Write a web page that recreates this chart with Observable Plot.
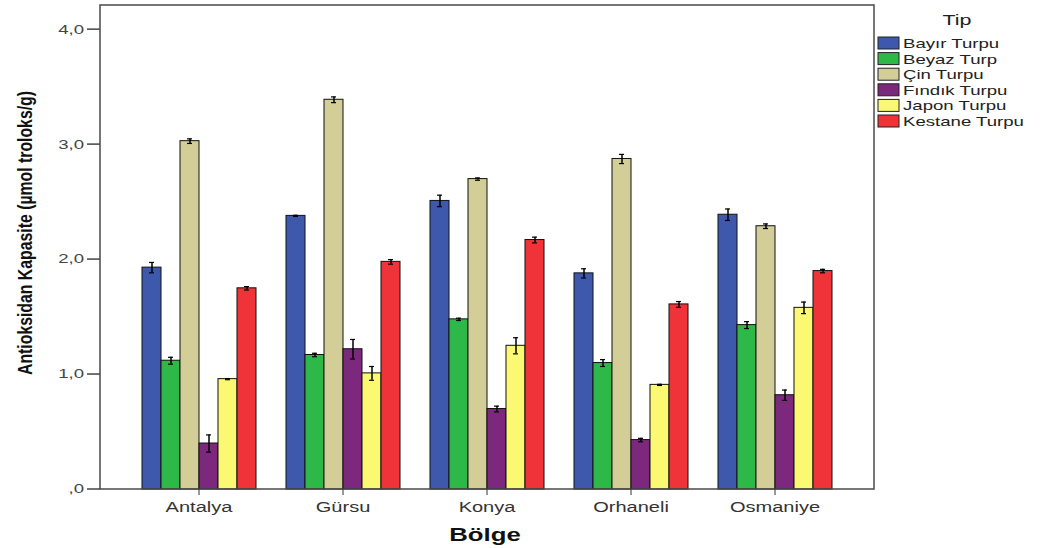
<!DOCTYPE html>
<html><head><meta charset="utf-8">
<script src="https://cdn.jsdelivr.net/npm/d3@7"></script>
<script src="https://cdn.jsdelivr.net/npm/@observablehq/plot@0.6"></script>
<style>
body{margin:0;background:#fff;}
#wrap{position:relative;width:1048px;height:548px;}
</style>
</head><body><div id="wrap"></div>
<script>
const regions = ["Antalya", "Gürsu", "Konya", "Orhaneli", "Osmaniye"];
const tips = ["Bayır Turpu", "Beyaz Turp", "Çin Turpu", "Fındık Turpu", "Japon Turpu", "Kestane Turpu"];
const colors = ["#3E58AC", "#2EB848", "#D3CE97", "#7C287D", "#FBF873", "#EF3338"];
const yTicks = [0, 1, 2, 3, 4];

// mean values per tip, in region order
const bayir   = [1.93, 2.38, 2.51, 1.88, 2.39];
const beyaz   = [1.12, 1.17, 1.48, 1.10, 1.43];
const cin     = [3.03, 3.39, 2.70, 2.875, 2.29];
const findik  = [0.40, 1.22, 0.70, 0.43, 0.82];
const japon   = [0.96, 1.01, 1.25, 0.91, 1.58];
const kestane = [1.75, 1.98, 2.17, 1.61, 1.90];
// error bar half-widths
const bayirErr   = [0.045, 0.005, 0.05, 0.04, 0.05];
const beyazErr   = [0.03, 0.015, 0.01, 0.03, 0.03];
const cinErr     = [0.02, 0.025, 0.01, 0.04, 0.02];
const findikErr  = [0.075, 0.085, 0.025, 0.015, 0.045];
const japonErr   = [0.005, 0.06, 0.07, 0.005, 0.05];
const kestaneErr = [0.015, 0.02, 0.025, 0.025, 0.015];

const values = [bayir, beyaz, cin, findik, japon, kestane];
const errs = [bayirErr, beyazErr, cinErr, findikErr, japonErr, kestaneErr];

const data = tips.flatMap((tip, i) => regions.map((region, j) => ({
  tip, region, value: values[i][j], lo: values[i][j] - errs[i][j], hi: values[i][j] + errs[i][j]
})));

const W = 1048, H = 548;
const mL = 100, mR = 174, mT = 5, mB = 59;
const STRETCH = 1.43;
const FONT = "Liberation Sans, Arial, sans-serif";
const fmt = d => d === 0 ? ",0" : d.toFixed(1).replace(".", ",");

const plot = Plot.plot({
  width: W, height: H,
  marginLeft: mL, marginRight: mR, marginTop: mT, marginBottom: mB,
  style: {fontFamily: FONT, background: "white", overflow: "visible"},
  fx: {domain: regions, paddingInner: 0.172, paddingOuter: 0.255, label: null},
  x: {domain: tips, paddingInner: 0, paddingOuter: 0, axis: null},
  y: {domain: [0, 4.21], label: null, axis: null},
  color: {domain: tips, range: colors},
  marks: [
    Plot.barY(data, {fx: "region", x: "tip", y: "value", fill: "tip", stroke: "#111", strokeWidth: 1}),
    Plot.ruleX(data, {fx: "region", x: "tip", y1: "lo", y2: "hi", stroke: "#000", strokeWidth: 1.5}),
    Plot.tickY(data, {fx: "region", x: "tip", y: "lo", stroke: "#000", strokeWidth: 1.2, inset: 7}),
    Plot.tickY(data, {fx: "region", x: "tip", y: "hi", stroke: "#000", strokeWidth: 1.2, inset: 7}),
    Plot.axisFx({anchor: "bottom", tickSize: 6, tickPadding: 7, fontSize: 14, color: "#333", label: null})
  ]
});

const wrap = document.getElementById("wrap");
wrap.appendChild(plot);
const svg = d3.select(plot);

// stretch axis texts horizontally like the reference
svg.selectAll("text").each(function() {
  const len = this.getComputedTextLength();
  if (len > 0) {
    d3.select(this).attr("textLength", len * STRETCH).attr("lengthAdjust", "spacingAndGlyphs");
  }
});

function addText(g, txt, attrs, factor) {
  const t = g.append("text").text(txt);
  for (const k in attrs) t.attr(k, attrs[k]);
  const len = t.node().getComputedTextLength();
  if (factor) t.attr("textLength", factor > 5 ? factor : len * factor).attr("lengthAdjust", "spacingAndGlyphs");
  return t;
}

// y axis (drawn once at the plot's left edge, positions from Plot's y scale)
const yScale = plot.scale("y");
const ya = svg.append("g");
yTicks.forEach(t => {
  const yy = yScale.apply(t);
  ya.append("line").attr("x1", mL - 13).attr("x2", mL).attr("y1", yy).attr("y2", yy)
    .attr("stroke", "#444").attr("stroke-width", 1.5);
  addText(ya, fmt(t), {x: mL - 16, y: yy, dy: "0.34em", "text-anchor": "end", "font-size": 13,
    fill: "#444", "font-family": FONT}, STRETCH);
});

// plot frame
svg.append("rect")
  .attr("x", mL).attr("y", mT)
  .attr("width", W - mL - mR).attr("height", H - mT - mB)
  .attr("fill", "none").attr("stroke", "#4a4a4a").attr("stroke-width", 1.5);

// y axis title (glyphs thickened across the reading direction, as in the reference)
const yt = svg.append("g").attr("transform", `translate(25,233) rotate(-90) scale(1,1.43)`);
addText(yt, "Antioksidan Kapasite (µmol troloks/g)", {
  x: 0, y: 0, "text-anchor": "middle", "dominant-baseline": "central",
  "font-size": 14.5, "font-weight": "bold", fill: "#111", "font-family": FONT
}, 284);

// x axis title
addText(svg, "Bölge", {
  x: 485, y: 541, "text-anchor": "middle", "font-size": 18, "font-weight": "bold",
  fill: "#111", "font-family": FONT
}, STRETCH);

// legend
const lg = svg.append("g");
addText(lg, "Tip", {x: 957, y: 25, "text-anchor": "middle", "font-size": 15, fill: "#222",
  "font-family": FONT}, STRETCH);
tips.forEach((t, i) => {
  const y0 = 37 + i * 15.6;
  lg.append("rect").attr("x", 878).attr("y", y0).attr("width", 21).attr("height", 12)
    .attr("fill", colors[i]).attr("stroke", "#222").attr("stroke-width", 1);
  addText(lg, t, {x: 903, y: y0 + 11, "text-anchor": "start", "font-size": 13, fill: "#222",
    "font-family": FONT}, STRETCH);
});
</script>
</body></html>
